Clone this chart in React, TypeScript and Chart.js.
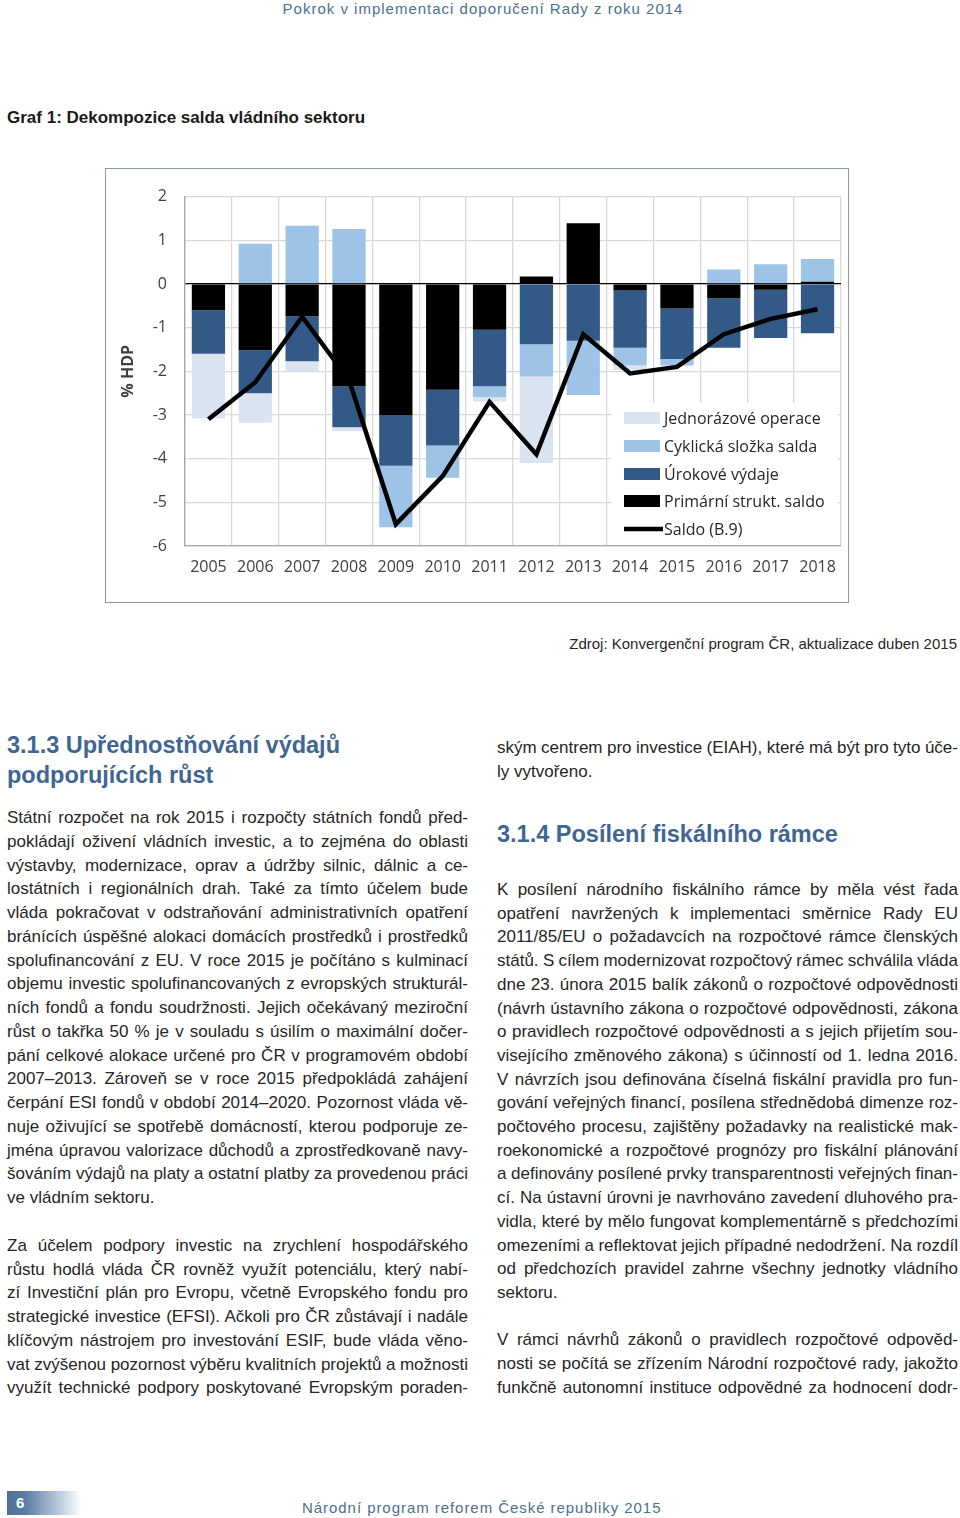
import React, { useEffect, useRef } from "react";
import { Chart, registerables } from "chart.js";

Chart.register(...registerables);

const years = ["2005", "2006", "2007", "2008", "2009", "2010", "2011", "2012", "2013", "2014", "2015", "2016", "2017", "2018"];
const primarniStruktSaldo = [-0.6, -1.52, -0.74, -2.34, -3.0, -2.42, -1.05, 0.17, 1.39, -0.15, -0.56, -0.33, -0.13, 0.05];
const urokoveVydaje = [-1.0, -0.98, -1.03, -0.94, -1.16, -1.28, -1.29, -1.38, -1.3, -1.31, -1.16, -1.13, -1.11, -1.13];
const cyklickaSlozka = [0, 0.92, 1.33, 1.26, -1.41, -0.74, -0.25, -0.74, -1.24, -0.41, -0.15, 0.33, 0.45, 0.52];
const jednorazoveOperace = [-1.48, -0.68, -0.23, -0.09, 0, 0, -0.1, -1.98, 0, -0.1, 0, 0, 0, 0];
const saldoB9 = [-3.1, -2.25, -0.75, -2.2, -5.5, -4.4, -2.7, -3.9, -1.15, -2.05, -1.9, -1.15, -0.8, -0.58];
const yTicks = [2, 1, 0, -1, -2, -3, -4, -5, -6];

const legendOrder = ["Jednorázové operace", "Cyklická složka salda", "Úrokové výdaje", "Primární strukt. saldo", "Saldo (B.9)"];

const C_BLACK = "#000000";
const C_DARK = "#335a87";
const C_CYCL = "#9dc3e6";
const C_ONE = "#dae4f1";

const tickFont = { family: "'Open Sans', 'DejaVu Sans', sans-serif", size: 16 };

const legendPlugin = {
  id: "insideLegend",
  afterDraw(chart: any) {
    const ctx = chart.ctx;
    const ca = chart.chartArea;
    ctx.save();
    ctx.fillStyle = "#ffffff";
    ctx.fillRect(505, 234, ca.right - 3 - 505, ca.bottom - 1 - 234);
    const ys = [249, 277, 305, 332, 360];
    ctx.font = "16px 'Open Sans', 'DejaVu Sans', sans-serif";
    ctx.textBaseline = "middle";
    ctx.textAlign = "left";
    legendOrder.forEach((label, i) => {
      const ds = chart.data.datasets.find((d: any) => d.label === label);
      const y = ys[i];
      if (ds.type === "line") {
        ctx.strokeStyle = ds.borderColor;
        ctx.lineWidth = 4.5;
        ctx.beginPath();
        ctx.moveTo(518, y);
        ctx.lineTo(557, y);
        ctx.stroke();
      } else {
        ctx.fillStyle = ds.backgroundColor;
        ctx.fillRect(518, y - 6, 36, 12);
      }
      ctx.fillStyle = "#262626";
      ctx.fillText(label, 558, y + 1);
    });
    ctx.restore();
  },
};

function ChartBox() {
  const ref = useRef<HTMLCanvasElement | null>(null);
  useEffect(() => {
    if (!ref.current) return;
    const chart = new Chart(ref.current, {
      type: "bar",
      data: {
        labels: years,
        datasets: [
          { type: "line", label: "Saldo (B.9)", data: saldoB9, borderColor: C_BLACK, backgroundColor: C_BLACK, borderWidth: 4.5, pointRadius: 0, tension: 0, borderJoinStyle: "miter", stack: "saldo", order: 0 } as any,
          { type: "bar", label: "Primární strukt. saldo", data: primarniStruktSaldo, backgroundColor: C_BLACK, stack: "s", order: 1, barPercentage: 0.71, categoryPercentage: 1 },
          { type: "bar", label: "Úrokové výdaje", data: urokoveVydaje, backgroundColor: C_DARK, stack: "s", order: 1, barPercentage: 0.71, categoryPercentage: 1 },
          { type: "bar", label: "Cyklická složka salda", data: cyklickaSlozka, backgroundColor: C_CYCL, stack: "s", order: 1, barPercentage: 0.71, categoryPercentage: 1 },
          { type: "bar", label: "Jednorázové operace", data: jednorazoveOperace, backgroundColor: C_ONE, stack: "s", order: 1, barPercentage: 0.71, categoryPercentage: 1 },
        ],
      },
      options: {
        responsive: false,
        animation: false,
        events: [],
        layout: { padding: { top: 26.7, right: 5, left: 0, bottom: 0 } },
        plugins: { legend: { display: false }, tooltip: { enabled: false } },
        scales: {
          x: {
            stacked: true,
            offset: true,
            grid: { offset: true, color: "#d9d9d9", lineWidth: 1.3, drawTicks: false },
            border: { display: true, color: "#a6a6a6", width: 1.3 },
            ticks: { font: tickFont, color: "#404040", padding: 12, maxRotation: 0, autoSkip: false },
            afterFit: (s: any) => { s.height = 56; },
          },
          y: {
            stacked: true,
            min: -6,
            max: 2,
            afterBuildTicks: (s: any) => { s.ticks = yTicks.map((v) => ({ value: v })); },
            grid: {
              color: (c: any) => (c.tick && c.tick.value === 0 ? "#000000" : "#d9d9d9"),
              lineWidth: 1.3,
              drawTicks: false,
            },
            border: { display: true, color: "#a6a6a6", width: 1.3 },
            ticks: { font: tickFont, color: "#404040", padding: 18 },
            title: { display: true, text: "% HDP", font: { family: "'Open Sans', 'DejaVu Sans', sans-serif", size: 16, weight: "bold" }, color: "#404040", padding: { top: 13, bottom: 0 } },
            afterFit: (s: any) => { s.width = 79; },
          },
        },
      },
      plugins: [legendPlugin],
    } as any);
    return () => chart.destroy();
  }, []);
  return <canvas ref={ref} width={742} height={433} style={{ display: "block" }} />;
}

const BODY_COLOR = "#262626";
const HEAD_COLOR = "#3f6693";
const PAGE_COLOR = "#4f6e90";

const leftP1 = [
  "Státní rozpočet na rok 2015 i rozpočty státních fondů před-",
  "pokládají oživení vládních investic, a to zejména do oblasti",
  "výstavby, modernizace, oprav a údržby silnic, dálnic a ce-",
  "lostátních i regionálních drah. Také za tímto účelem bude",
  "vláda pokračovat v odstraňování administrativních opatření",
  "bránících úspěšné alokaci domácích prostředků i prostředků",
  "spolufinancování z EU. V roce 2015 je počítáno s kulminací",
  "objemu investic spolufinancovaných z evropských strukturál-",
  "ních fondů a fondu soudržnosti. Jejich očekávaný meziroční",
  "růst o takřka 50 % je v souladu s úsilím o maximální dočer-",
  "pání celkové alokace určené pro ČR v programovém období",
  "2007–2013. Zároveň se v roce 2015 předpokládá zahájení",
  "čerpání ESI fondů v období 2014–2020. Pozornost vláda vě-",
  "nuje oživující se spotřebě domácností, kterou podporuje ze-",
  "jména úpravou valorizace důchodů a zprostředkovaně navy-",
  "šováním výdajů na platy a ostatní platby za provedenou práci",
  "ve vládním sektoru.",
];
const leftP2 = [
  "Za účelem podpory investic na zrychlení hospodářského",
  "růstu hodlá vláda ČR rovněž využít potenciálu, který nabí-",
  "zí Investiční plán pro Evropu, včetně Evropského fondu pro",
  "strategické investice (EFSI). Ačkoli pro ČR zůstávají i nadále",
  "klíčovým nástrojem pro investování ESIF, bude vláda věno-",
  "vat zvýšenou pozornost výběru kvalitních projektů a možnosti",
  "využít technické podpory poskytované Evropským poraden-",
];
const rightP0 = [
  "ským centrem pro investice (EIAH), které má být pro tyto úče-",
  "ly vytvořeno.",
];
const rightP1 = [
  "K posílení národního fiskálního rámce by měla vést řada",
  "opatření navržených k implementaci směrnice Rady EU",
  "2011/85/EU o požadavcích na rozpočtové rámce členských",
  "států. S cílem modernizovat rozpočtový rámec schválila vláda",
  "dne 23. února 2015 balík zákonů o rozpočtové odpovědnosti",
  "(návrh ústavního zákona o rozpočtové odpovědnosti, zákona",
  "o pravidlech rozpočtové odpovědnosti a s jejich přijetím sou-",
  "visejícího změnového zákona) s účinností od 1. ledna 2016.",
  "V návrzích jsou definována číselná fiskální pravidla pro fun-",
  "gování veřejných financí, posílena střednědobá dimenze roz-",
  "počtového procesu, zajištěny požadavky na realistické mak-",
  "roekonomické a rozpočtové prognózy pro fiskální plánování",
  "a definovány posílené prvky transparentnosti veřejných finan-",
  "cí. Na ústavní úrovni je navrhováno zavedení dluhového pra-",
  "vidla, které by mělo fungovat komplementárně s předchozími",
  "omezeními a reflektovat jejich případné nedodržení. Na rozdíl",
  "od předchozích pravidel zahrne všechny jednotky vládního",
  "sektoru.",
];
const rightP2 = [
  "V rámci návrhů zákonů o pravidlech rozpočtové odpověd-",
  "nosti se počítá se zřízením Národní rozpočtové rady, jakožto",
  "funkčně autonomní instituce odpovědné za hodnocení dodr-",
];

function Para({ lines, x, y0, step, lastJustify }: { lines: string[]; x: number; y0: number; step: number; lastJustify: boolean }) {
  return (
    <>
      {lines.map((t, i) => {
        const last = i === lines.length - 1 && !lastJustify;
        return (
          <div
            key={i}
            style={{
              position: "absolute",
              left: x,
              top: y0 + i * step - 12,
              width: 461,
              height: 24,
              lineHeight: "24px",
              fontSize: 17,
              wordSpacing: last ? "0px" : "-3px",
              whiteSpace: "nowrap",
              textAlign: last ? "left" : "justify",
              textAlignLast: last ? "left" : "justify",
              color: BODY_COLOR,
            } as any}
          >
            {t}
          </div>
        );
      })}
    </>
  );
}

export default function App() {
  const base: any = { position: "absolute", fontFamily: "'Liberation Sans', Arial, sans-serif" };
  return (
    <div style={{ position: "absolute", left: 0, top: 0, width: 960, height: 1518, background: "#fff", fontFamily: "'Liberation Sans', Arial, sans-serif", overflow: "hidden" }}>
      <div style={{ ...base, left: 0, top: 0, width: 966, textAlign: "center", fontSize: 15, lineHeight: "17px", letterSpacing: "1.0px", color: PAGE_COLOR }}>
        Pokrok v implementaci doporučení Rady z roku 2014
      </div>
      <div style={{ ...base, left: 7, top: 107, fontSize: 17, fontWeight: "bold", lineHeight: "21px", color: "#1a1a1a" }}>
        Graf 1: Dekompozice salda vládního sektoru
      </div>
      <div style={{ ...base, left: 105, top: 168, width: 744, height: 435, border: "1px solid #8a97a4", boxSizing: "border-box", background: "#fff" }}>
        <ChartBox />
      </div>
      <div style={{ ...base, right: 3, top: 634, fontSize: 15, lineHeight: "20px", color: BODY_COLOR, whiteSpace: "nowrap" }}>
        Zdroj: Konvergenční program ČR, aktualizace duben 2015
      </div>

      <div style={{ ...base, left: 7, top: 730, fontSize: 23.5, fontWeight: "bold", lineHeight: "30px", color: HEAD_COLOR, whiteSpace: "nowrap" }}>
        3.1.3 Upřednostňování výdajů
        <br />
        podporujících růst
      </div>
      <Para lines={leftP1} x={7} y0={818} step={23.75} lastJustify={false} />
      <Para lines={leftP2} x={7} y0={1246} step={23.7} lastJustify={true} />

      <Para lines={rightP0} x={497} y0={748} step={24} lastJustify={false} />
      <div style={{ ...base, left: 497, top: 819, fontSize: 23.5, fontWeight: "bold", lineHeight: "30px", color: HEAD_COLOR, whiteSpace: "nowrap" }}>
        3.1.4 Posílení fiskálního rámce
      </div>
      <Para lines={rightP1} x={497} y0={890} step={23.7} lastJustify={false} />
      <Para lines={rightP2} x={497} y0={1340} step={24} lastJustify={true} />

      <div style={{ ...base, left: 7, top: 1491, width: 74, height: 24, background: "linear-gradient(to right, #4d6f99 0%, #5b7ca3 25%, #c5d2e2 75%, #ffffff 100%)" }} />
      <div style={{ ...base, left: 16, top: 1492, fontSize: 15, fontWeight: "bold", lineHeight: "22px", color: "#ffffff" }}>6</div>
      <div style={{ ...base, left: 302, top: 1499, fontSize: 15, lineHeight: "18px", letterSpacing: "0.95px", color: PAGE_COLOR, whiteSpace: "nowrap" }}>
        Národní program reforem České republiky 2015
      </div>
    </div>
  );
}
